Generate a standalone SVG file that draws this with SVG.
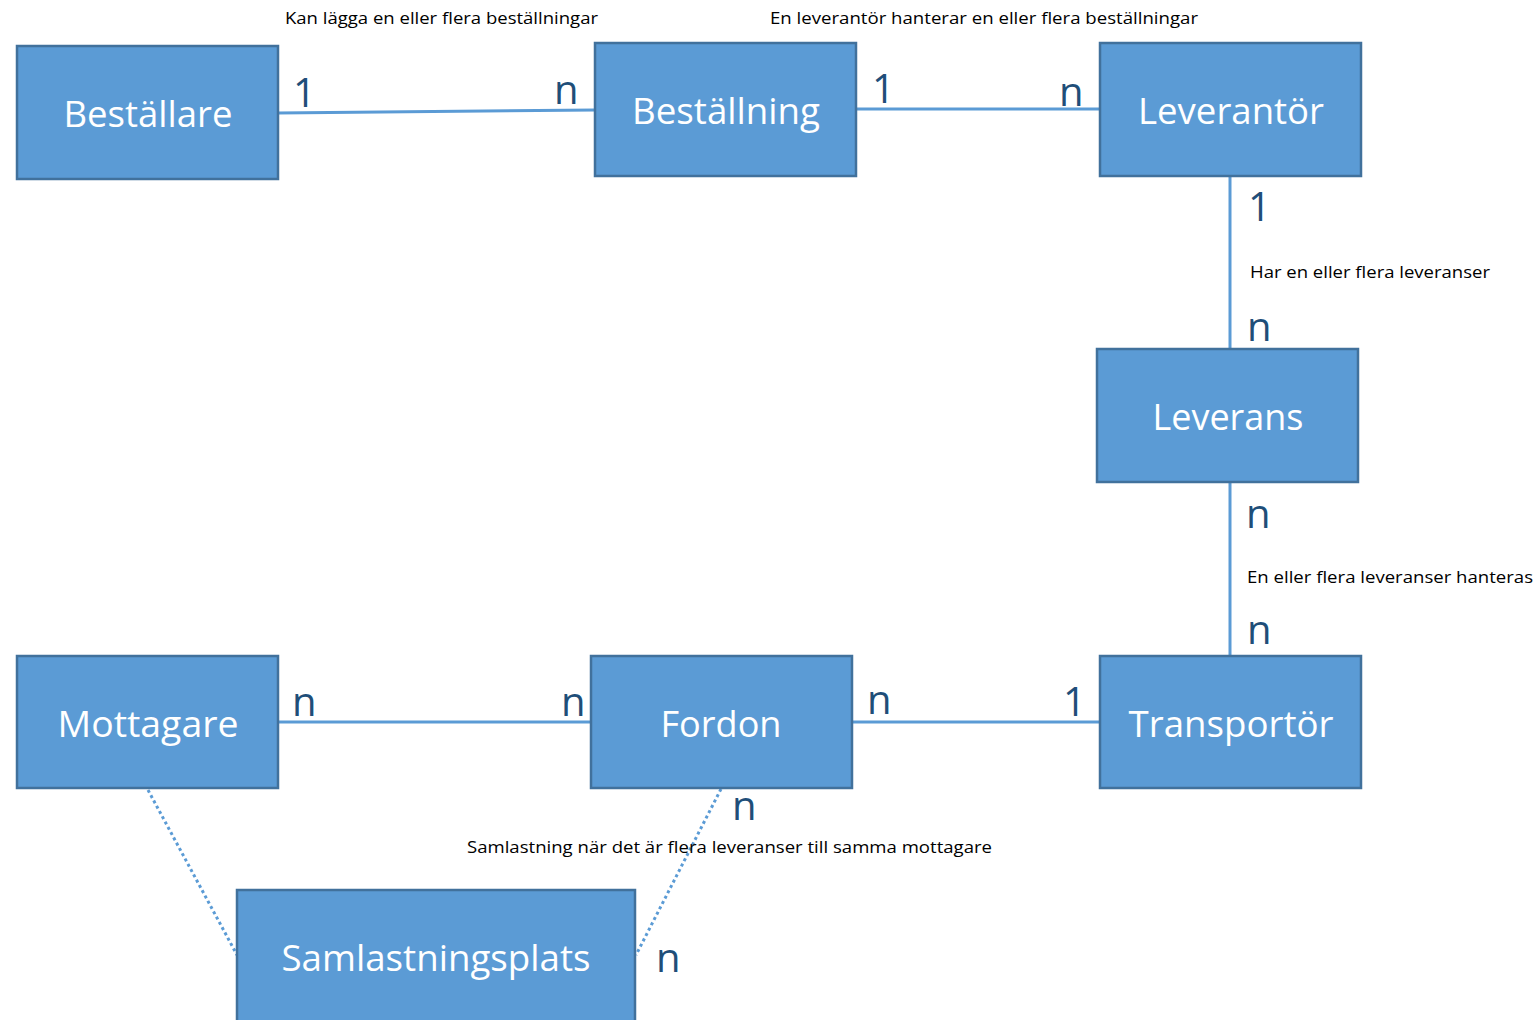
<svg xmlns="http://www.w3.org/2000/svg" width="1538" height="1020" viewBox="0 0 1538 1020">
<style>
.box{fill:#5B9BD5;stroke:#41719C;stroke-width:2.5}
.bt{font-family:"Open Sans","Liberation Sans",sans-serif;font-size:37px;fill:#fff;text-anchor:middle}
.card{font-family:"Open Sans","Liberation Sans",sans-serif;font-size:40px;fill:#1F4E79}
.note{font-family:"Open Sans","Liberation Sans",sans-serif;font-size:17px;fill:#000}
.ln{stroke:#5B9BD5;stroke-width:3;fill:none}
.dot{stroke:#5B9BD5;stroke-width:3;fill:none;stroke-dasharray:3 3}
</style>
<rect width="1538" height="1020" fill="#fff"/>
<g id="connectors">
<line class="ln" x1="278" y1="113" x2="595" y2="110"/>
<line class="ln" x1="856" y1="109" x2="1100" y2="109"/>
<line class="ln" x1="1230" y1="176" x2="1230" y2="349"/>
<line class="ln" x1="1230" y1="482" x2="1230" y2="656"/>
<line class="ln" x1="278" y1="722" x2="591" y2="722"/>
<line class="ln" x1="852" y1="722" x2="1100" y2="722"/>
<line class="dot" x1="148" y1="790" x2="237" y2="955"/>
<line class="dot" x1="721" y1="789" x2="636" y2="955"/>
</g>
<g id="n-bestallare"><rect class="box" x="17" y="46" width="261" height="133"/><text class="bt" x="148" y="127" textLength="169" lengthAdjust="spacingAndGlyphs">Beställare</text></g>
<g id="n-bestallning"><rect class="box" x="595" y="43" width="261" height="133"/><text class="bt" x="726" y="124" textLength="188" lengthAdjust="spacingAndGlyphs">Beställning</text></g>
<g id="n-leverantor"><rect class="box" x="1100" y="43" width="261" height="133"/><text class="bt" x="1231" y="124" textLength="186" lengthAdjust="spacingAndGlyphs">Leverantör</text></g>
<g id="n-leverans"><rect class="box" x="1097" y="349" width="261" height="133"/><text class="bt" x="1228" y="430" textLength="151" lengthAdjust="spacingAndGlyphs">Leverans</text></g>
<g id="n-mottagare"><rect class="box" x="17" y="656" width="261" height="132"/><text class="bt" x="148" y="737" textLength="181" lengthAdjust="spacingAndGlyphs">Mottagare</text></g>
<g id="n-fordon"><rect class="box" x="591" y="656" width="261" height="132"/><text class="bt" x="721" y="737" textLength="121" lengthAdjust="spacingAndGlyphs">Fordon</text></g>
<g id="n-transportor"><rect class="box" x="1100" y="656" width="261" height="132"/><text class="bt" x="1231" y="737" textLength="205" lengthAdjust="spacingAndGlyphs">Transportör</text></g>
<g id="n-samlastningsplats"><rect class="box" x="237" y="890" width="398" height="140"/><text class="bt" x="436" y="971" textLength="309" lengthAdjust="spacingAndGlyphs">Samlastningsplats</text></g>
<g id="labels">
<text class="card" x="293" y="107">1</text>
<text class="card" x="554" y="104">n</text>
<text class="card" x="872" y="103">1</text>
<text class="card" x="1059" y="106">n</text>
<text class="card" x="1248" y="221">1</text>
<text class="card" x="1247" y="341">n</text>
<text class="card" x="1246" y="528">n</text>
<text class="card" x="1247" y="644">n</text>
<text class="card" x="292" y="716">n</text>
<text class="card" x="561" y="716">n</text>
<text class="card" x="867" y="714">n</text>
<text class="card" x="1063" y="716">1</text>
<text class="card" x="732" y="820">n</text>
<text class="card" x="656" y="972">n</text>
<text class="note" x="285" y="24" textLength="313" lengthAdjust="spacingAndGlyphs">Kan lägga en eller flera beställningar</text>
<text class="note" x="770" y="24" textLength="428" lengthAdjust="spacingAndGlyphs">En leverantör hanterar en eller flera beställningar</text>
<text class="note" x="1250" y="278" textLength="240" lengthAdjust="spacingAndGlyphs">Har en eller flera leveranser</text>
<text class="note" x="1247" y="583" textLength="286" lengthAdjust="spacingAndGlyphs">En eller flera leveranser hanteras</text>
<text class="note" x="467" y="853" textLength="525" lengthAdjust="spacingAndGlyphs">Samlastning när det är flera leveranser till samma mottagare</text>
</g>
</svg>
